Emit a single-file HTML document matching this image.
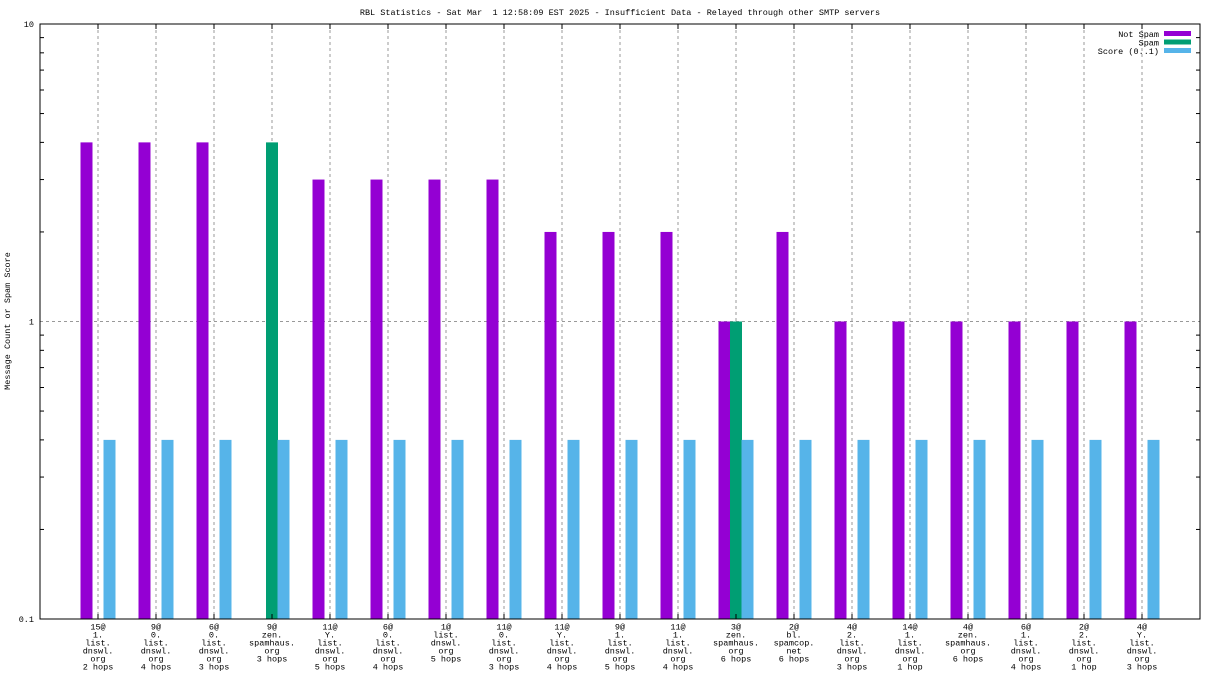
<!DOCTYPE html>
<html><head><meta charset="utf-8"><style>
body{margin:0;background:#fff;}
svg{display:block;font-family:"Liberation Mono",monospace;font-size:8.5px;}
text{white-space:pre;}
</style></head><body>
<svg id="chart" width="1216" height="684">
<text x="620" y="15" text-anchor="middle">RBL Statistics - Sat Mar  1 12:58:09 EST 2025 - Insufficient Data - Relayed through other SMTP servers</text>
<text transform="translate(10,321) rotate(-90)" text-anchor="middle">Message Count or Spam Score</text>
<g id="grid"></g><g id="bars"></g><g id="axes"></g><g id="legend"></g>
</svg>
<script>
const categories=[
["15@","1.","list.","dnswl.","org","2 hops"],["9@","0.","list.","dnswl.","org","4 hops"],["6@","0.","list.","dnswl.","org","3 hops"],
["9@","zen.","spamhaus.","org","3 hops"],["11@","Y.","list.","dnswl.","org","5 hops"],["6@","0.","list.","dnswl.","org","4 hops"],
["1@","list.","dnswl.","org","5 hops"],["11@","0.","list.","dnswl.","org","3 hops"],["11@","Y.","list.","dnswl.","org","4 hops"],
["9@","1.","list.","dnswl.","org","5 hops"],["11@","1.","list.","dnswl.","org","4 hops"],["3@","zen.","spamhaus.","org","6 hops"],
["2@","bl.","spamcop.","net","6 hops"],["4@","2.","list.","dnswl.","org","3 hops"],["14@","1.","list.","dnswl.","org","1 hop"],
["4@","zen.","spamhaus.","org","6 hops"],["6@","1.","list.","dnswl.","org","4 hops"],["2@","2.","list.","dnswl.","org","1 hop"],
["4@","Y.","list.","dnswl.","org","3 hops"]];
const notSpam=[4,4,4,0,3,3,3,3,2,2,2,1,2,1,1,1,1,1,1];
const spam=[0,0,0,4,0,0,0,0,0,0,0,1,0,0,0,0,0,0,0];
const score=[0.4,0.4,0.4,0.4,0.4,0.4,0.4,0.4,0.4,0.4,0.4,0.4,0.4,0.4,0.4,0.4,0.4,0.4,0.4];
const yTicks=[0.1,1,10];
const seriesNames=["Not Spam","Spam","Score (0..1)"];
const colors=["#9400d3","#009e73","#56b4e9"];
const NS="http://www.w3.org/2000/svg";
const L=40,R=1200,T=24,B=619;
const y=v=>B-(Math.log10(v)+1)/2*(B-T);
const xc=i=>98+i*58;
function mk(tag,attrs,parent){const e=document.createElementNS(NS,tag);for(const k in attrs)e.setAttribute(k,attrs[k]);document.getElementById(parent).appendChild(e);return e;}
for(let i=0;i<categories.length;i++){
 const g=mk('line',{x1:xc(i),x2:xc(i),y1:T,y2:B,stroke:'#999','stroke-dasharray':'3,3'},'grid');
 
 
}
{const g=mk('line',{x1:L,x2:R,y1:y(1),y2:y(1),stroke:'#999','stroke-dasharray':'3,3'},'grid');
 
 }
const series=[notSpam,spam,score];
series.forEach((s,si)=>{s.forEach((v,i)=>{if(v<=0.1)return;
 const x=xc(i)-17.5+si*11.5;
 const r=mk('rect',{x:x,y:y(v),width:12,height:B-y(v),fill:colors[si]},'bars');
 
 
});});
const frame=mk('rect',{x:L,y:T,width:R-L,height:B-T,fill:'none',stroke:'#000','stroke-width':1},'axes');


yTicks.forEach(v=>{
 const t=mk('text',{x:L-6,y:y(v)+3,'text-anchor':'end'},'axes');t.textContent=String(v);
 
 
});
for(let d=-1;d<1;d++)for(let m=2;m<=9;m++){const v=m*Math.pow(10,d);
 mk('line',{x1:L,x2:L+4,y1:y(v),y2:y(v),stroke:'#000'},'axes');
 mk('line',{x1:R,x2:R-4,y1:y(v),y2:y(v),stroke:'#000'},'axes');}
categories.forEach((c,i)=>{
 mk('line',{x1:xc(i),x2:xc(i),y1:B,y2:B-5,stroke:'#000'},'axes');
 mk('line',{x1:xc(i),x2:xc(i),y1:T,y2:T+5,stroke:'#000'},'axes');
 const t=mk('text',{x:xc(i),y:630,'text-anchor':'middle'},'axes');
 
 
 c.forEach((line,k)=>{const ts=document.createElementNS(NS,'tspan');ts.setAttribute('x',xc(i));ts.setAttribute('y',629.5+k*8.0);ts.textContent=line;t.appendChild(ts);});
});
seriesNames.forEach((n,k)=>{
 const t=mk('text',{x:1159,y:37+k*8.5,'text-anchor':'end'},'legend');t.textContent=n;
 
 
 const r=mk('rect',{x:1164,y:31+k*8.5,width:27,height:5,fill:colors[k]},'legend');
 
 
});
</script>
</body></html>
